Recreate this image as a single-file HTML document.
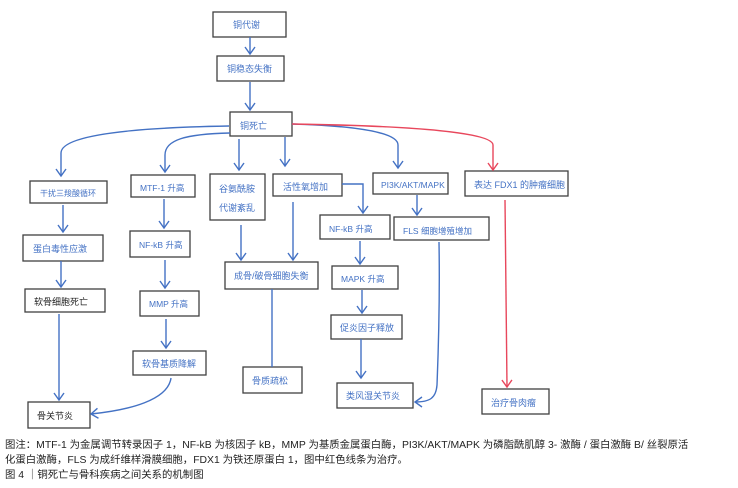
<!DOCTYPE html>
<html><head><meta charset="utf-8"><style>
body{margin:0;background:#fff;width:738px;height:488px;overflow:hidden;font-family:"Liberation Sans","Noto Sans CJK SC",sans-serif}
.cap{position:absolute;left:5px;font-size:10.4px;color:#222;white-space:nowrap}
</style></head><body>
<svg width="738" height="488" style="position:absolute;left:0;top:0" font-family="Liberation Sans, Noto Sans CJK SC, sans-serif" font-size="9">
<defs>
<marker id="b" markerWidth="12" markerHeight="12" refX="10" refY="6" orient="auto" markerUnits="userSpaceOnUse"><path d="M3,1 L10,6 L3,11" fill="none" stroke="#4472c4" stroke-width="1.4"/></marker>
<marker id="r" markerWidth="12" markerHeight="12" refX="10" refY="6" orient="auto" markerUnits="userSpaceOnUse"><path d="M3,1 L10,6 L3,11" fill="none" stroke="#e8475c" stroke-width="1.4"/></marker>
</defs>
<g fill="#fff" stroke="#404040" stroke-width="1.3">
<rect x="213" y="12" width="73" height="25"/>
<rect x="217" y="56" width="67" height="25"/>
<rect x="230" y="112" width="62" height="24"/>
<rect x="30" y="181" width="77" height="22"/>
<rect x="131" y="175" width="64" height="22"/>
<rect x="210" y="174" width="55" height="46"/>
<rect x="273" y="174" width="69" height="22"/>
<rect x="373" y="173" width="75" height="21"/>
<rect x="465" y="171" width="103" height="25"/>
<rect x="320" y="215" width="70" height="24"/>
<rect x="394" y="217" width="95" height="23"/>
<rect x="225" y="262" width="93" height="27"/>
<rect x="332" y="266" width="66" height="23"/>
<rect x="331" y="315" width="71" height="24"/>
<rect x="337" y="383" width="76" height="25"/>
<rect x="243" y="367" width="59" height="26"/>
<rect x="482" y="389" width="67" height="25"/>
<rect x="23" y="235" width="80" height="26"/>
<rect x="25" y="289" width="80" height="23"/>
<rect x="28" y="402" width="62" height="26"/>
<rect x="130" y="231" width="60" height="26"/>
<rect x="140" y="291" width="59" height="25"/>
<rect x="133" y="351" width="73" height="24"/>
</g>
<g fill="none" stroke="#4472c4" stroke-width="1.4" marker-end="url(#b)">
<path d="M250,37 V54"/>
<path d="M250,82 V110"/>
<path d="M229,126 C110,128 61,138 61,153 V176"/>
<path d="M230,133 C185,134 165,140 165,155 V172"/>
<path d="M239,139 V170"/>
<path d="M285,137 V166"/>
<path d="M292,124 C360,126 398,133 398,145 V168"/>
<path d="M342,184 H363 V213"/>
<path d="M293,202 V260"/>
<path d="M241,225 V260"/>
<path d="M360,241 V264"/>
<path d="M362,290 V313"/>
<path d="M361,339 V378"/>
<path d="M417,195 V215"/>
<path d="M439,242 C440,300 438,360 437,385 C436,398 430,402 415,402"/>
<path d="M63,205 V232"/>
<path d="M61,261 V287"/>
<path d="M59,314 V400"/>
<path d="M164,199 V228"/>
<path d="M165,260 V288"/>
<path d="M166,319 V348"/>
<path d="M171,378 C168,400 130,410 91,414"/>
</g>
<path d="M272,289 V367" stroke="#4472c4" stroke-width="1.4" fill="none"/>
<g fill="none" stroke="#e8475c" stroke-width="1.4" marker-end="url(#r)">
<path d="M292,124 C420,126 493,133 493,145 V170"/>
<path d="M505,200 L507,387"/>
</g>
<g fill="#4472c4">
<text x="233" y="28">铜代谢</text>
<text x="227" y="72">铜稳态失衡</text>
<text x="240" y="129">铜死亡</text>
<text x="40" y="196" font-size="8">干扰三羧酸循环</text>
<text x="140" y="191" font-size="8.5">MTF-1 升高</text>
<text x="219" y="192">谷氨酰胺</text>
<text x="219" y="211">代谢紊乱</text>
<text x="283" y="190">活性氧增加</text>
<text x="381" y="188" font-size="8.5">PI3K/AKT/MAPK</text>
<text x="474" y="188">表达 FDX1 的肿瘤细胞</text>
<text x="329" y="232" font-size="8.5">NF-kB 升高</text>
<text x="403" y="234" font-size="8.5">FLS 细胞增殖增加</text>
<text x="234" y="279">成骨/破骨细胞失衡</text>
<text x="341" y="282" font-size="8.5">MAPK 升高</text>
<text x="340" y="331">促炎因子释放</text>
<text x="346" y="399">类风湿关节炎</text>
<text x="252" y="384">骨质疏松</text>
<text x="491" y="406">治疗骨肉瘤</text>
<text x="33" y="252">蛋白毒性应激</text>
<text x="139" y="248" font-size="8.5">NF-kB 升高</text>
<text x="149" y="307" font-size="8.5">MMP 升高</text>
<text x="142" y="367">软骨基质降解</text>
</g>
<g fill="#222">
<text x="34" y="305">软骨细胞死亡</text>
<text x="37" y="419">骨关节炎</text>
</g>
</svg>
<div class="cap" style="top:436px">图注：MTF-1 为金属调节转录因子 1，NF-kB 为核因子 kB，MMP 为基质金属蛋白酶，PI3K/AKT/MAPK 为磷脂酰肌醇 3- 激酶 / 蛋白激酶 B/ 丝裂原活</div>
<div class="cap" style="top:451px">化蛋白激酶，FLS 为成纤维样滑膜细胞，FDX1 为铁还原蛋白 1，图中红色线条为治疗。</div>
<div class="cap" style="top:466px">图 4 ｜铜死亡与骨科疾病之间关系的机制图</div>
</body></html>
